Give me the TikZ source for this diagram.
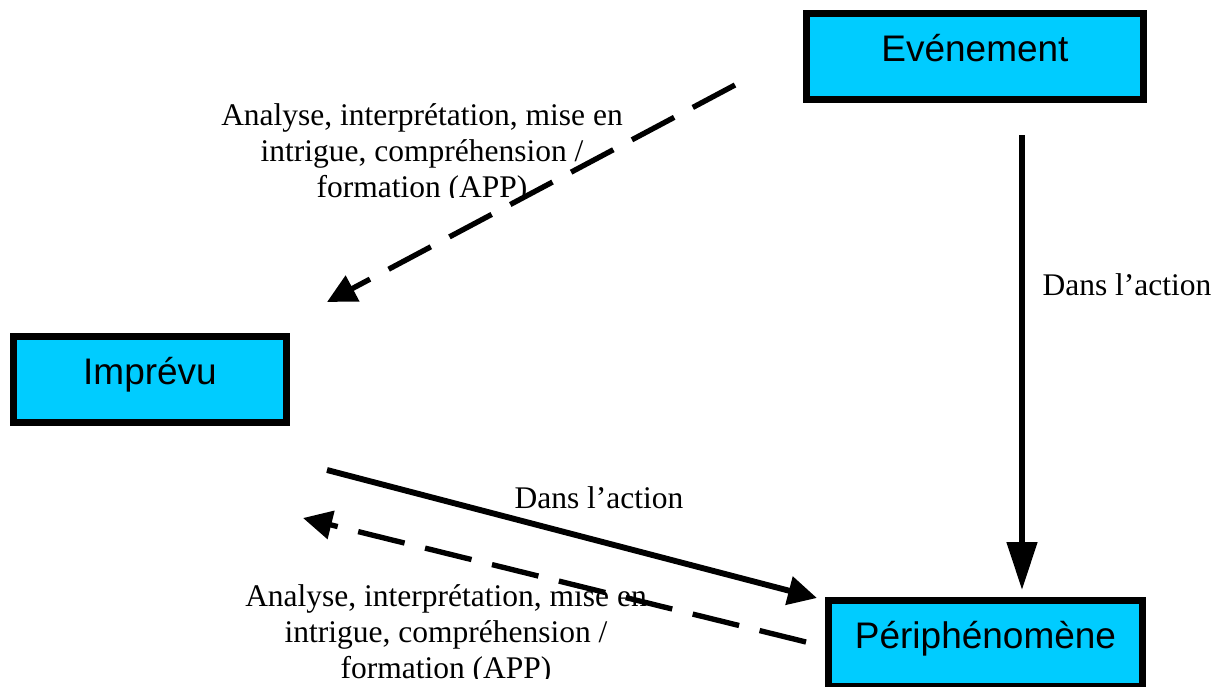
\documentclass[tikz,border=0pt]{standalone}
\usepackage{fontspec}
\setmainfont{Liberation Serif}
\setsansfont{Liberation Sans}
\usetikzlibrary{arrows.meta}
\definecolor{boxcyan}{RGB}{0,204,255}

\begin{document}
\begin{tikzpicture}[x=0.025cm,y=-0.025cm,
  boite/.style={draw,line width=5pt,fill=boxcyan,inner sep=0pt,
    font=\sffamily\fontsize{26.3}{30}\selectfont,text height=18pt,text depth=10.2pt},
  lbl/.style={font=\fontsize{22.4}{25.6}\selectfont,align=center,inner sep=0pt},
  fleche/.style={line width=4.2pt,-{Triangle[length=20.6pt,width=20pt]}},
  tiret/.style={fleche,line width=3.8pt,dash pattern=on 34pt off 15pt}]
  \useasboundingbox (0,0) rectangle (1226,686);
  \node[boite,minimum width=8.425cm,minimum height=2.15cm] (ev) at (975,56.5) {Evénement};
  \node[boite,minimum width=6.825cm,minimum height=2.15cm] (imp) at (150,379.5) {Imprévu};
  \node[boite,minimum width=7.85cm,minimum height=2.15cm] (peri) at (985.5,643.5) {Périphénomène};
  \coordinate (a1) at (735,85);
  \coordinate (a2) at (327,302);
  \coordinate (b1) at (1022,135);
  \coordinate (b2) at (1022,590);
  \coordinate (c1) at (327,470);
  \coordinate (c2) at (817,598);
  \coordinate (d1) at (806,642);
  \coordinate (d2) at (303,518);
  \draw[tiret] (a1) -- (a2);
  \draw[fleche,-{Triangle[length=34pt,width=21pt]}] (b1) -- (b2);
  \draw[fleche] (c1) -- (c2);
  \draw[tiret] (d1) -- (d2);
  \begin{scope}
    \clip (190,80) rectangle (660,197);
    \node[lbl,anchor=base] (ana1) at (422,197) {Analyse, interprétation, mise en\\intrigue, compréhension /\\formation (APP)};
  \end{scope}
  \node[lbl,anchor=base] (act1) at (1127,295) {Dans l’action};
  \node[lbl,anchor=base] (act2) at (599,508) {Dans l’action};
  \begin{scope}
    \clip (190,570) rectangle (700,678);
    \node[lbl,anchor=base] (ana2) at (446,678) {Analyse, interprétation, mise en\\intrigue, compréhension /\\formation (APP)};
  \end{scope}
\end{tikzpicture}
\end{document}
